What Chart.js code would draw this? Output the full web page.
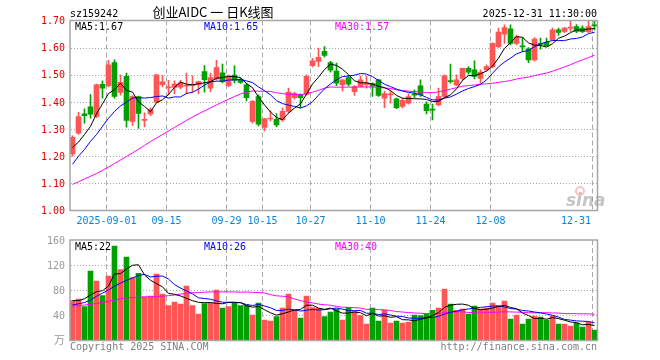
<!DOCTYPE html>
<html>
<head>
<meta charset="utf-8">
<script src="https://cdn.jsdelivr.net/npm/chart.js@4.4.1/dist/chart.umd.min.js"></script>
<style>
html, body { margin: 0; padding: 0; background: #fff; }
#wrap { position: relative; width: 660px; height: 360px; }
canvas { position: absolute; left: 0; top: 0; }
</style>
</head>
<body>
<div id="wrap">
  <canvas id="kChart" width="660" height="360"></canvas>
  <canvas id="volChart" width="660" height="360"></canvas>
</div>
<script>
// trading days shown, per month (kept as a list so the order is fixed)
var monthDays = [
	['08', [22, 25, 26, 27, 28, 29]],
	['09', [1, 2, 3, 4, 5, 8, 9, 10, 11, 12, 15, 16, 17, 18, 19, 22, 23, 24, 25, 26, 29, 30]],
	['10', [9, 10, 13, 14, 15, 16, 17, 20, 21, 22, 23, 24, 27, 28, 29, 30, 31]],
	['11', [3, 4, 5, 6, 7, 10, 11, 12, 13, 14, 17, 18, 19, 20, 21, 24, 25, 26, 27, 28]],
	['12', [1, 2, 3, 4, 5, 8, 9, 10, 11, 12, 15, 16, 17, 18, 19, 22, 23, 24, 25, 26, 29, 30, 31]]
];
var tickDates = ['09-01', '09-15', '09-29', '10-15', '10-27', '11-10', '11-24', '12-08', '12-31'];
var priceTicks = [1.00, 1.10, 1.20, 1.30, 1.40, 1.50, 1.60, 1.70];
var volTicks = [40, 80, 120, 160];

var opens = [1.208, 1.285, 1.356, 1.382, 1.347, 1.465, 1.460, 1.545, 1.435, 1.494,
	1.328, 1.420, 1.332, 1.356, 1.399, 1.464, 1.452, 1.453, 1.454, 1.458,
	1.460, 1.463, 1.512, 1.451, 1.485, 1.507, 1.460, 1.499, 1.483, 1.463,
	1.328, 1.420, 1.306, 1.337, 1.336, 1.334, 1.365, 1.416, 1.428, 1.428,
	1.534, 1.549, 1.586, 1.545, 1.514, 1.463, 1.490, 1.438, 1.457, 1.464,
	1.468, 1.481, 1.414, 1.426, 1.411, 1.383, 1.395, 1.428, 1.459, 1.392,
	1.374, 1.389, 1.420, 1.478, 1.463, 1.487, 1.524, 1.518, 1.487, 1.518,
	1.530, 1.604, 1.650, 1.669, 1.616, 1.606, 1.596, 1.555, 1.615, 1.620,
	1.629, 1.666, 1.660, 1.672, 1.678, 1.672, 1.659, 1.682];
var highs = [1.275, 1.362, 1.375, 1.427, 1.466, 1.478, 1.553, 1.555, 1.500, 1.506,
	1.423, 1.422, 1.360, 1.378, 1.502, 1.497, 1.480, 1.478, 1.480, 1.506,
	1.496, 1.477, 1.534, 1.506, 1.553, 1.539, 1.500, 1.533, 1.487, 1.469,
	1.406, 1.426, 1.340, 1.367, 1.357, 1.377, 1.451, 1.436, 1.430, 1.500,
	1.561, 1.598, 1.604, 1.550, 1.543, 1.482, 1.496, 1.460, 1.496, 1.496,
	1.470, 1.483, 1.440, 1.440, 1.414, 1.414, 1.430, 1.445, 1.481, 1.400,
	1.392, 1.451, 1.500, 1.539, 1.500, 1.525, 1.530, 1.551, 1.518, 1.537,
	1.618, 1.672, 1.684, 1.684, 1.646, 1.637, 1.600, 1.637, 1.635, 1.635,
	1.672, 1.672, 1.675, 1.700, 1.685, 1.680, 1.700, 1.700];
var lows = [1.200, 1.280, 1.322, 1.340, 1.342, 1.414, 1.455, 1.414, 1.425, 1.307,
	1.313, 1.302, 1.308, 1.349, 1.397, 1.455, 1.426, 1.430, 1.448, 1.430,
	1.436, 1.430, 1.436, 1.438, 1.480, 1.470, 1.455, 1.470, 1.468, 1.404,
	1.322, 1.312, 1.293, 1.330, 1.309, 1.328, 1.360, 1.410, 1.377, 1.425,
	1.529, 1.530, 1.565, 1.510, 1.460, 1.441, 1.459, 1.424, 1.455, 1.451,
	1.420, 1.420, 1.379, 1.395, 1.375, 1.378, 1.392, 1.416, 1.420, 1.356,
	1.334, 1.385, 1.415, 1.469, 1.460, 1.480, 1.502, 1.485, 1.469, 1.515,
	1.525, 1.600, 1.616, 1.610, 1.610, 1.586, 1.545, 1.550, 1.594, 1.605,
	1.625, 1.645, 1.655, 1.660, 1.655, 1.655, 1.655, 1.665];
var closes = [1.270, 1.346, 1.349, 1.355, 1.463, 1.451, 1.537, 1.420, 1.472, 1.332,
	1.420, 1.358, 1.336, 1.372, 1.500, 1.474, 1.455, 1.466, 1.470, 1.462,
	1.463, 1.475, 1.482, 1.490, 1.527, 1.475, 1.495, 1.479, 1.472, 1.416,
	1.402, 1.318, 1.338, 1.339, 1.315, 1.365, 1.436, 1.432, 1.416, 1.494,
	1.551, 1.564, 1.571, 1.517, 1.469, 1.481, 1.465, 1.457, 1.481, 1.469,
	1.458, 1.424, 1.431, 1.428, 1.379, 1.406, 1.420, 1.425, 1.426, 1.368,
	1.370, 1.420, 1.496, 1.475, 1.481, 1.524, 1.510, 1.494, 1.510, 1.530,
	1.616, 1.657, 1.674, 1.616, 1.640, 1.603, 1.555, 1.632, 1.612, 1.607,
	1.666, 1.656, 1.672, 1.675, 1.660, 1.659, 1.678, 1.680];
var volumes = [62.9, 65.6, 53.3, 110.4, 94.4, 70.9, 102.4, 150.4, 112.5, 132.8,
	99.7, 106.7, 68.8, 70.4, 105.6, 73.6, 54.9, 60.8, 57.6, 86.4,
	54.9, 41.6, 58.1, 58.7, 80.0, 51.2, 53.3, 58.7, 54.9, 56.0,
	40.0, 59.2, 32.0, 30.4, 37.3, 51.2, 73.6, 47.5, 35.2, 70.4,
	51.7, 50.7, 37.3, 44.8, 49.6, 32.0, 52.3, 45.3, 38.9, 25.6,
	51.2, 30.4, 47.5, 27.2, 30.4, 27.2, 28.8, 40.0, 38.9, 41.1,
	47.5, 51.2, 81.6, 57.6, 47.5, 49.6, 41.6, 54.4, 49.6, 51.2,
	59.2, 54.4, 62.4, 33.6, 40.0, 25.6, 33.6, 38.4, 36.8, 32.0,
	38.4, 25.6, 25.6, 22.4, 27.2, 20.8, 28.8, 16.0];

var ma5Head = [1.232, 1.252, 1.280, 1.310];
var ma10Head = [1.170, 1.200, 1.225, 1.255, 1.280, 1.310, 1.340, 1.365, 1.385];
var ma30Head = [1.096, 1.106, 1.116, 1.126, 1.136, 1.148, 1.160, 1.173, 1.186, 1.199,
	1.212, 1.226, 1.240, 1.254, 1.267, 1.280, 1.293, 1.306, 1.319, 1.332,
	1.344, 1.356, 1.367, 1.378, 1.389, 1.400, 1.410, 1.420, 1.429];
var volMa5Head = [63, 63, 66, 72];
var volMa10Head = [56, 58, 60, 64, 70, 75, 80, 86, 91];
var volMa30Head = [54, 55, 56, 57, 58.5, 60, 62, 64, 66, 67.5,
	68, 68.5, 69, 69, 69.5, 70, 71, 72, 73.5, 74.5,
	75.5, 76, 76.5, 77, 77, 77, 77, 77, 76.5];

var priceLegend = ['MA5:1.67', 'MA10:1.65', 'MA30:1.57'];
var volLegend = ['MA5:22', 'MA10:26', 'MA30:40'];

var RED = '#ff5555', GREEN = '#00a000';
var MONO = "10px 'DejaVu Sans Mono', monospace";

var labels = [];
monthDays.forEach(function (md) {
	md[1].forEach(function (d) {
		labels.push(md[0] + '-' + (d < 10 ? '0' + d : d));
	});
});
var tickIdx = tickDates.map(function (t) { return labels.indexOf(t); });

function movingAvg(src, n, head) {
	return src.map(function (v, i) {
		if (i < n - 1) return head[i];
		var s = 0;
		for (var k = i - n + 1; k <= i; k++) s += src[k];
		return s / n;
	});
}

var colors = closes.map(function (c, i) { return c >= opens[i] ? RED : GREEN; });

function lineSet(data, color) {
	return { type: 'line', data: data, borderColor: color, borderWidth: 1,
		pointRadius: 0, tension: 0, fill: false, order: 0 };
}

function drawGrid(chart, dotted) {
	var ctx = chart.ctx, a = chart.chartArea, sc = chart.scales;
	ctx.save();
	ctx.strokeStyle = '#aaa';
	ctx.lineWidth = 1;
	ctx.setLineDash([1, 2]);
	dotted.forEach(function (v) {
		var y = Math.round(sc.y.getPixelForValue(v)) + 0.5;
		ctx.beginPath(); ctx.moveTo(71, y); ctx.lineTo(597, y); ctx.stroke();
	});
	ctx.setLineDash([5, 3]);
	tickIdx.forEach(function (i) {
		var x = Math.floor(sc.x.getPixelForValue(i)) - 2 + 0.5;
		ctx.beginPath(); ctx.moveTo(x, a.top); ctx.lineTo(x, a.bottom); ctx.stroke();
	});
	ctx.restore();
}

function drawBox(ctx, top, bottom) {
	ctx.save();
	ctx.strokeStyle = '#a6a6a6';
	ctx.lineWidth = 1.5;
	ctx.strokeRect(70, top, 527.5, bottom - top);
	ctx.restore();
}

function drawLegend(ctx, texts, y) {
	var xs = [75, 204, 335], cs = ['#000', '#0000ff', '#ff00ff'];
	ctx.font = MONO;
	ctx.textAlign = 'left';
	ctx.textBaseline = 'alphabetic';
	texts.forEach(function (t, k) { ctx.fillStyle = cs[k]; ctx.fillText(t, xs[k], y); });
}

var pricePlugin = {
	id: 'priceFrame',
	beforeDraw: function (chart) {
		var ctx = chart.ctx;
		ctx.save(); ctx.fillStyle = '#fff'; ctx.fillRect(0, 0, 660, 360); ctx.restore();
	},
	beforeDatasetsDraw: function (chart) {
		drawGrid(chart, priceTicks.slice(1, -1));
	},
	afterDraw: function (chart) {
		var ctx = chart.ctx, sc = chart.scales;
		drawBox(ctx, 20.5, 210.5);
		ctx.save();
		// sina mark
		ctx.font = "italic bold 17px 'DejaVu Sans', sans-serif";
		ctx.fillStyle = 'rgba(150,150,150,0.55)';
		ctx.fillText('sina', 566, 206);
		ctx.strokeStyle = 'rgba(240,120,120,0.45)';
		ctx.lineWidth = 2;
		ctx.beginPath(); ctx.arc(580, 191, 4, 0, Math.PI * 2); ctx.stroke();

		ctx.font = MONO;
		ctx.fillStyle = '#000';
		ctx.textBaseline = 'alphabetic';
		ctx.textAlign = 'left';
		ctx.fillText('sz159242', 70, 16.5);
		ctx.textAlign = 'right';
		ctx.fillText('2025-12-31 11:30:00', 597, 16.5);
		ctx.font = "13px 'Noto Sans CJK SC', sans-serif";
		ctx.textAlign = 'center';
		ctx.fillText('创业AIDC 一 日K线图', 213, 17);
		drawLegend(ctx, priceLegend, 29.5);

		ctx.font = MONO;
		ctx.textAlign = 'right';
		ctx.textBaseline = 'middle';
		ctx.fillStyle = '#e60000';
		priceTicks.forEach(function (v) {
			ctx.fillText(v.toFixed(2), 65, sc.y.getPixelForValue(v) + 1);
		});
		ctx.fillStyle = '#0a84d8';
		tickIdx.forEach(function (i, k) {
			var t = k === 0 ? '2025-' + tickDates[k] : tickDates[k];
			var last = k === tickIdx.length - 1;
			// the last label is pulled inside the plot's right edge
			ctx.textAlign = last ? 'right' : 'center';
			ctx.fillText(t, last ? 591 : Math.floor(sc.x.getPixelForValue(i)) - 1.5, 221);
		});
		ctx.restore();
	}
};

var volPlugin = {
	id: 'volFrame',
	beforeDatasetsDraw: function (chart) {
		drawGrid(chart, volTicks.slice(0, -1));
	},
	afterDraw: function (chart) {
		var ctx = chart.ctx, sc = chart.scales;
		drawBox(ctx, 240, 340.5);
		ctx.save();
		drawLegend(ctx, volLegend, 249.5);
		ctx.font = MONO;
		ctx.fillStyle = '#999';
		ctx.textAlign = 'right';
		ctx.textBaseline = 'middle';
		volTicks.forEach(function (v) {
			ctx.fillText(String(v), 65, sc.y.getPixelForValue(v) + 1);
		});
		ctx.font = "11px 'Noto Sans CJK SC', sans-serif";
		ctx.fillText('万', 65, 340);
		ctx.textBaseline = 'alphabetic';
		ctx.font = MONO;
		ctx.fillStyle = '#808080';
		ctx.textAlign = 'left';
		ctx.fillText('Copyright 2025 SINA.COM', 70, 349.5);
		ctx.textAlign = 'right';
		ctx.fillText('http://finance.sina.com.cn', 597, 349.5);
		ctx.restore();
	}
};

function baseOptions(padTop, padBottom, yMin, yMax) {
	return {
		responsive: false,
		animation: false,
		devicePixelRatio: 1,
		layout: { padding: { left: 69.5, right: 62.5, top: padTop, bottom: padBottom } },
		plugins: { legend: { display: false }, tooltip: { enabled: false } },
		scales: {
			x: { type: 'category', offset: true, display: false, grid: { display: false } },
			y: { min: yMin, max: yMax, display: false, grid: { display: false } }
		}
	};
}

new Chart(document.getElementById('kChart'), {
	type: 'bar',
	data: {
		labels: labels,
		datasets: [
			lineSet(movingAvg(closes, 5, ma5Head), '#000'),
			lineSet(movingAvg(closes, 10, ma10Head), '#0000ff'),
			lineSet(movingAvg(closes, 30, ma30Head), '#ff00ff'),
			{
				data: opens.map(function (o, i) { return [o, closes[i]]; }),
				backgroundColor: colors, borderWidth: 0,
				barThickness: 5, minBarLength: 1, grouped: false, order: 1
			},
			{
				data: lows.map(function (l, i) { return [l, highs[i]]; }),
				backgroundColor: colors, borderWidth: 0,
				barThickness: 1, grouped: false, order: 2
			}
		]
	},
	options: baseOptions(20.5, 149.5, 1.0, 1.7),
	plugins: [pricePlugin]
});

new Chart(document.getElementById('volChart'), {
	type: 'bar',
	data: {
		labels: labels,
		datasets: [
			lineSet(movingAvg(volumes, 5, volMa5Head), '#000'),
			lineSet(movingAvg(volumes, 10, volMa10Head), '#0000ff'),
			lineSet(movingAvg(volumes, 30, volMa30Head), '#ff00ff'),
			{
				data: volumes, backgroundColor: colors, borderWidth: 0,
				barThickness: 5, grouped: false, order: 1
			}
		]
	},
	options: baseOptions(240, 20, 0, 160),
	plugins: [volPlugin]
});
</script>
</body>
</html>
